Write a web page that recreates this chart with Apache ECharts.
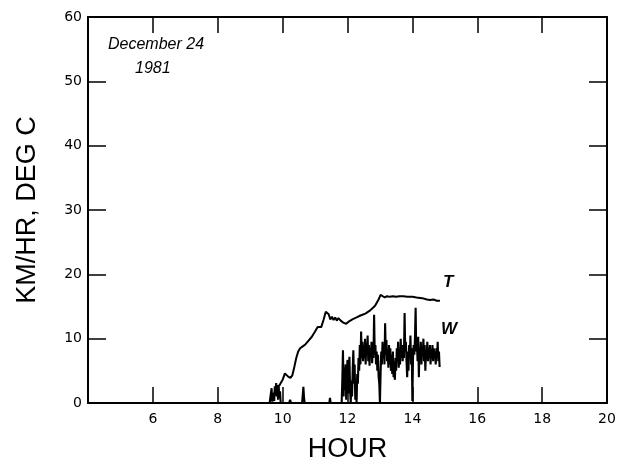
<!DOCTYPE html>
<html>
<head>
<meta charset="utf-8">
<script src="https://cdn.jsdelivr.net/npm/echarts@6/dist/echarts.min.js"></script>
<style>html,body{margin:0;padding:0;background:#fff;}#c{width:633px;height:464px;}</style>
</head>
<body>
<div id="c"></div>
<script>
// Temperature trace T (hour, deg C)
const tData = [
[9.62,0.4],[9.66,0.8],[9.75,1.6],[9.85,2.4],[9.92,2.9],[10.00,3.6],[10.07,4.6],[10.12,4.3],[10.17,4.1],[10.24,3.9],
[10.30,4.3],[10.36,5.6],[10.42,7.0],[10.48,8.0],[10.54,8.5],[10.62,8.8],[10.70,9.1],[10.80,9.7],[10.90,10.3],[11.00,11.1],
[11.08,11.8],[11.14,12.0],[11.19,11.8],[11.26,12.9],[11.33,14.2],[11.37,14.5],[11.42,13.8],[11.47,13.0],[11.52,13.4],[11.57,12.9],
[11.62,13.3],[11.67,12.8],[11.72,13.2],[11.79,12.8],[11.87,12.5],[11.96,12.3],[12.05,12.7],[12.15,13.0],[12.28,13.3],[12.40,13.6],
[12.55,13.9],[12.70,14.4],[12.85,15.1],[12.95,16.0],[13.02,16.8],[13.08,16.7],[13.15,16.4],[13.22,16.6],[13.30,16.5],[13.40,16.6],
[13.50,16.5],[13.60,16.6],[13.72,16.6],[13.85,16.5],[14.00,16.5],[14.13,16.4],[14.30,16.3],[14.45,16.1],[14.55,16.0],[14.65,16.1],
[14.75,15.9],[14.85,15.9]
];
// Wind speed trace W (hour, km/hr)
const wData = [
[9.60,0],[9.64,0],[9.66,2.3],[9.68,0.2],[9.70,0],[9.72,1.5],[9.74,0.3],[9.76,2.6],[9.78,1.2],[9.80,3.1],
[9.82,1.0],[9.84,2.8],[9.86,0.5],[9.88,2.5],[9.90,0.8],[9.92,1.8],[9.94,0],[10.20,0],[10.23,0.5],[10.26,0],
[10.60,0],[10.62,1.2],[10.64,2.5],[10.66,0.8],[10.68,0],[11.44,0],[11.46,0.8],[11.48,0],[11.82,0],
[11.84,3.5],[11.86,8.2],[11.88,1.0],[11.90,5.5],[11.92,2.0],[11.94,6.0],[11.96,0.5],[11.98,4.8],[12.00,6.7],[12.02,1.5],
[12.04,5.2],[12.06,7.2],[12.08,2.0],[12.10,0],[12.12,3.5],[12.14,1.0],[12.16,5.0],[12.18,8.2],[12.20,3.0],[12.22,6.0],
[12.24,0.5],[12.26,2.5],[12.28,0],[12.30,4.5],[12.32,3.0],[12.34,7.0],[12.36,5.0],[12.38,9.0],[12.40,6.0],[12.42,11.1],
[12.44,7.0],[12.46,9.5],[12.48,6.5],[12.50,9.0],[12.52,7.0],[12.54,10.0],[12.56,6.0],[12.58,9.3],[12.60,7.5],[12.62,10.5],
[12.64,6.5],[12.66,9.0],[12.68,5.8],[12.70,8.5],[12.72,7.0],[12.74,9.5],[12.76,6.2],[12.78,8.8],[12.80,7.0],[12.82,13.7],
[12.84,7.5],[12.86,9.0],[12.88,6.0],[12.90,8.0],[12.92,5.0],[12.94,7.5],[12.96,4.0],[12.98,3.0],[13.00,0],[13.02,4.5],
[13.04,8.0],[13.06,6.0],[13.08,9.5],[13.10,7.0],[13.12,8.5],[13.14,6.0],[13.16,12.4],[13.18,7.5],[13.20,9.8],[13.22,6.5],
[13.24,8.0],[13.26,5.5],[13.28,9.0],[13.30,6.0],[13.32,8.5],[13.34,5.0],[13.36,7.5],[13.38,4.5],[13.40,8.0],[13.42,4.0],
[13.44,6.5],[13.46,3.6],[13.48,7.0],[13.50,5.0],[13.52,8.5],[13.54,6.5],[13.56,9.5],[13.58,5.5],[13.60,8.0],[13.62,6.0],
[13.64,10.0],[13.66,7.0],[13.68,9.0],[13.70,6.5],[13.72,8.5],[13.74,7.0],[13.76,14.0],[13.78,8.0],[13.80,9.5],[13.82,6.5],
[13.84,4.0],[13.86,8.0],[13.88,5.0],[13.90,9.0],[13.92,7.0],[13.94,10.5],[13.96,6.0],[13.98,8.5],[14.00,0.3],[14.02,7.0],
[14.04,9.0],[14.06,7.5],[14.08,10.0],[14.10,14.8],[14.12,8.0],[14.14,9.5],[14.16,6.5],[14.18,10.3],[14.20,4.0],[14.22,8.5],
[14.24,7.0],[14.26,9.5],[14.28,6.0],[14.30,8.5],[14.32,7.5],[14.34,10.0],[14.36,6.5],[14.38,9.0],[14.40,5.0],[14.42,8.0],
[14.44,7.0],[14.46,9.5],[14.48,6.5],[14.50,8.5],[14.52,7.0],[14.54,9.0],[14.56,6.0],[14.58,8.0],[14.60,7.5],[14.62,9.0],
[14.64,6.5],[14.66,8.5],[14.68,7.0],[14.70,8.0],[14.72,6.0],[14.74,8.5],[14.76,7.0],[14.78,9.5],[14.80,6.5],[14.82,8.0],
[14.84,5.6]
];
const xMin = 4, xMax = 20, xStep = 2;
const yMin = 0, yMax = 60, yStep = 10;
const xTitle = 'HOUR';
const yTitle = 'KM/HR, DEG C';
const noteLines = ['December 24', '1981'];

const chart = echarts.init(document.getElementById('c'), null, {renderer: 'canvas'});
const lineCol = '#000';
const tickFont = {fontFamily: 'DejaVu Sans', fontSize: 14, color: '#000'};
chart.setOption({
  animation: false,
  backgroundColor: '#fff',
  grid: {left: 88, right: 26, top: 17, bottom: 61, containLabel: false, outerBoundsMode: 'none'},
  xAxis: [{
    type: 'value', min: xMin, max: xMax, interval: xStep, position: 'bottom',
    name: xTitle, nameLocation: 'middle', nameGap: 33,
    nameTextStyle: {fontFamily: 'Liberation Sans', fontSize: 27, color: '#000'},
    axisLine: {onZero: false, lineStyle: {color: lineCol, width: 2}},
    axisTick: {inside: true, length: 16, lineStyle: {color: lineCol, width: 1.5}},
    axisLabel: Object.assign({margin: 9, formatter: v => v === xMin ? '' : String(v)}, tickFont),
    splitLine: {show: false}
  }, {
    type: 'value', min: xMin, max: xMax, interval: xStep, position: 'top',
    axisLine: {onZero: false, lineStyle: {color: lineCol, width: 2}},
    axisTick: {inside: true, length: 16, lineStyle: {color: lineCol, width: 1.5}},
    axisLabel: {show: false}, splitLine: {show: false}
  }],
  yAxis: [{
    type: 'value', min: yMin, max: yMax, interval: yStep, position: 'left',
    name: yTitle, nameLocation: 'middle', nameGap: 47, nameRotate: 90,
    nameTextStyle: {fontFamily: 'Liberation Sans', fontSize: 27, color: '#000'},
    axisLine: {show: true, onZero: false, lineStyle: {color: lineCol, width: 2}},
    axisTick: {show: true, inside: true, length: 18, lineStyle: {color: lineCol, width: 1.5}},
    axisLabel: Object.assign({margin: 6}, tickFont),
    splitLine: {show: false}
  }, {
    type: 'value', min: yMin, max: yMax, interval: yStep, position: 'right',
    axisLine: {show: true, onZero: false, lineStyle: {color: lineCol, width: 2}},
    axisTick: {show: true, inside: true, length: 18, lineStyle: {color: lineCol, width: 1.5}},
    axisLabel: {show: false}, splitLine: {show: false}
  }],
  series: [{
    name: 'T', type: 'line', data: tData, showSymbol: false, smooth: false,
    lineStyle: {color: '#000', width: 2}, z: 3
  }, {
    name: 'W', type: 'line', data: wData, showSymbol: false, smooth: false,
    lineStyle: {color: '#000', width: 2.1}, z: 3
  }],
  graphic: [
    {type: 'text', left: 108, top: 37, style: {text: noteLines[0], font: 'italic 16px "Liberation Sans"', fill: '#000'}},
    {type: 'text', left: 135, top: 61, style: {text: noteLines[1], font: 'italic 16px "Liberation Sans"', fill: '#000'}},
    {type: 'text', left: 443, top: 274, style: {text: 'T', font: 'italic bold 17px "Liberation Sans"', fill: '#000'}},
    {type: 'text', left: 441, top: 321, style: {text: 'W', font: 'italic bold 17px "Liberation Sans"', fill: '#000'}}
  ]
});
</script>
</body>
</html>
